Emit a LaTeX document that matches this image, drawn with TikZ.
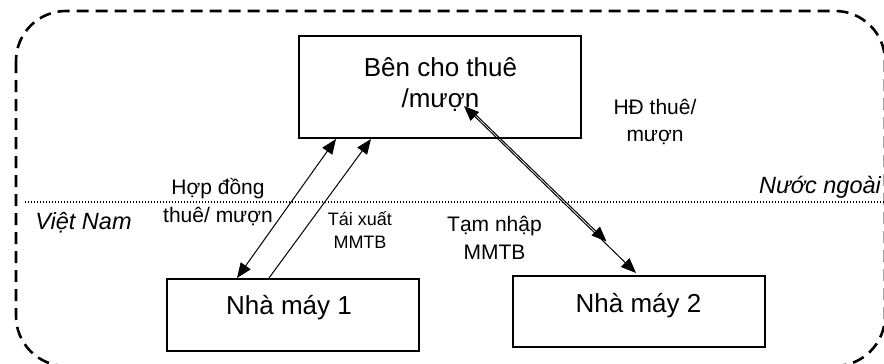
\documentclass[tikz,border=0pt]{standalone}
\usepackage{fontspec}
\setmainfont{Liberation Sans}
\usetikzlibrary{arrows.meta,calc}

\begin{document}
\begin{tikzpicture}[x=1pt,y=-1pt,
  box/.style={draw,line width=2pt,inner sep=0pt},
  boxtext/.style={inner sep=0pt,font=\fontsize{26}{31}\selectfont,align=center},
  lbl/.style={inner sep=0pt,font=\fontsize{21}{27.5}\selectfont,align=center},
  smalllbl/.style={inner sep=0pt,font=\fontsize{18}{23}\selectfont,align=center},
  region/.style={inner sep=0pt,font=\fontsize{23.5}{28}\selectfont\itshape},
  tip/.tip={Triangle[length=15pt,width=12pt]},
  conn/.style={line width=1pt,-tip},
  bothconn/.style={line width=1pt,tip-tip}]
\useasboundingbox (0,0) rectangle (884,364);

% dashed outer frame
\draw[line width=2.6pt,dash pattern=on 12pt off 7pt,rounded corners=50pt]
  (16,11) rectangle (885,366);
% border line between the two countries
\draw[line width=1.4pt,dash pattern=on 1.3pt off 1.7pt] (25,202) -- (884,202);

% boxes
\node[box,minimum width=282pt,minimum height=102pt] (ben) at (440,87) {};
\node[box,minimum width=252pt,minimum height=72pt] (nm1) at (293,315) {};
\node[box,minimum width=252pt,minimum height=71pt] (nm2) at (639,311.5) {};

\node[boxtext] (bentext) at (440.5,85) {Bên cho thuê\\/mượn};
\node[boxtext,anchor=base] (nm1text) at (289,314) {Nhà máy 1};
\node[boxtext,anchor=base] (nm2text) at (638.5,312) {Nhà máy 2};

% connectors
\draw[bothconn] ($(nm1.north west)+(71,0)$) -- ($(ben.south west)+(38,0)$);
\draw[conn] ($(nm1.north west)+(103,0)$) -- ($(ben.south west)+(73,0)$);
\draw[bothconn] ($(ben.north west)+(166,71)$) -- ($(nm2.north west)+(124,-2)$);
\coordinate (tn) at (606.5,241.5);
\draw[conn] ($(ben.north west)+(177,79)$) -- (tn);

% labels
\node[lbl] (hd) at (655,122) {HĐ thuê/\\mượn};
\node[lbl] (hopdong) at (218,202) {Hợp đồng\\thuê/ mượn};
\node[smalllbl] (taixuat) at (360,230) {Tái xuất\\MMTB};
\node[lbl] (tamnhap) at (494.5,238) {Tạm nhập\\MMTB};
\node[region,anchor=base] (vn) at (83.5,229) {Việt Nam};
\node[region,anchor=base] (nn) at (820,193) {Nước ngoài};
\end{tikzpicture}
\end{document}
